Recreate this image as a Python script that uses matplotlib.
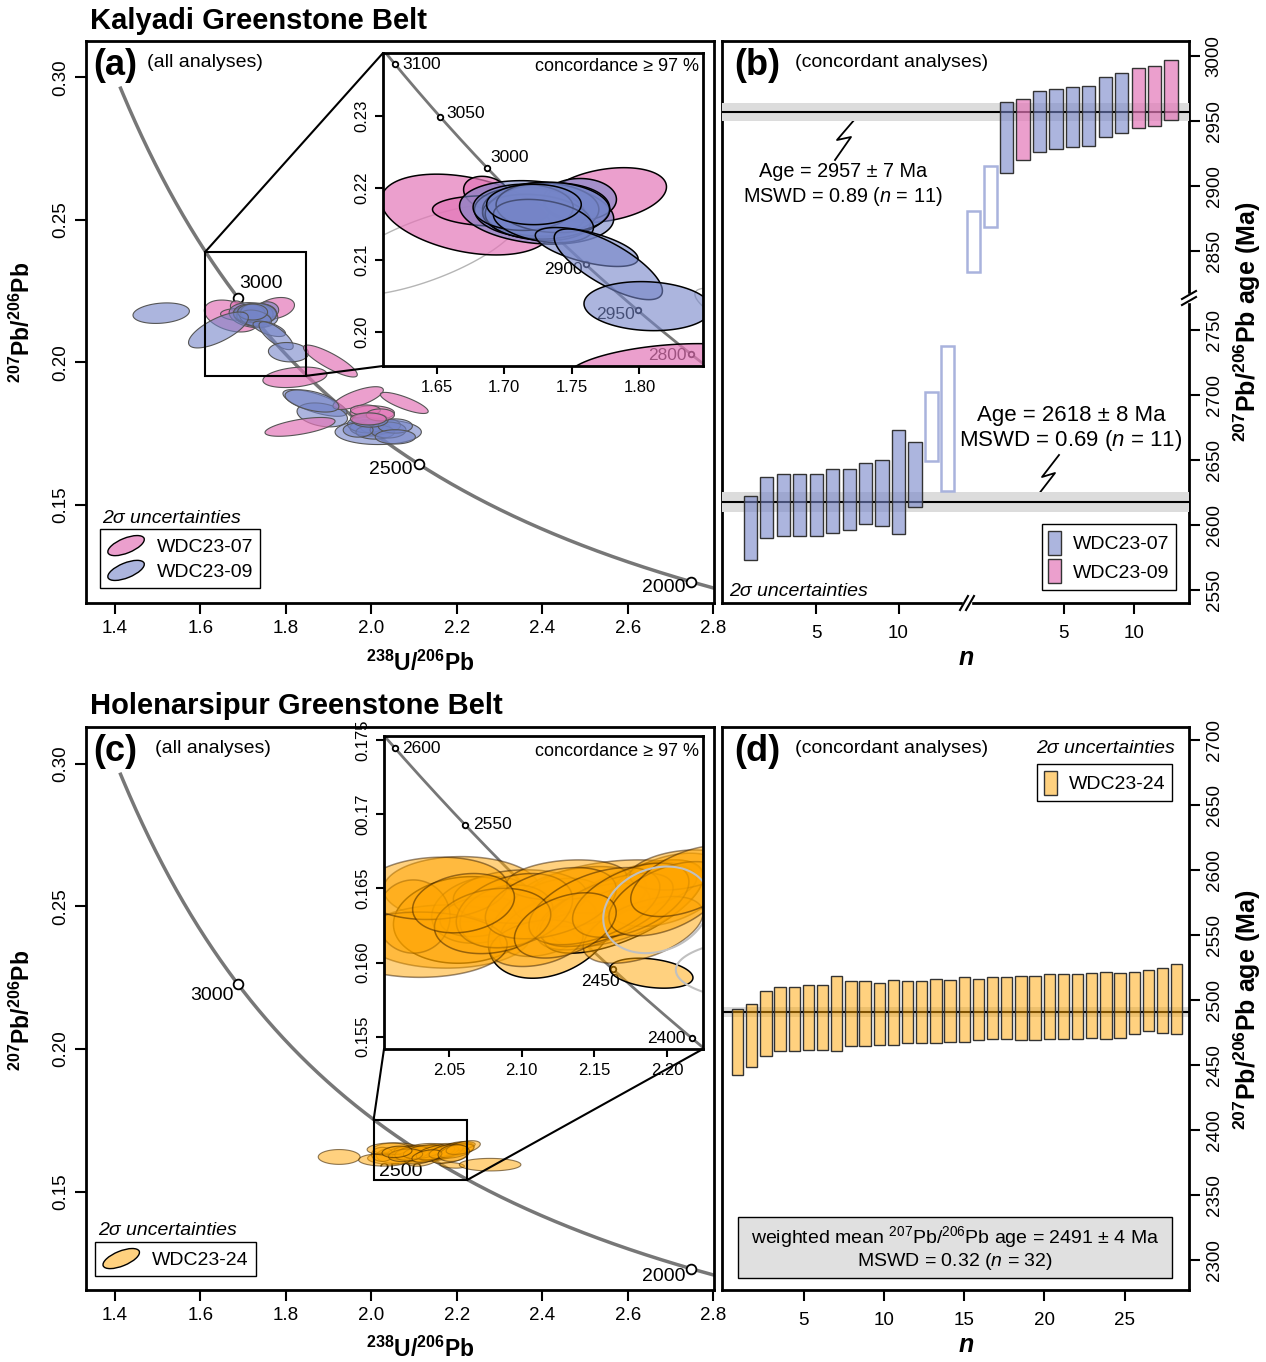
import numpy as np
import matplotlib
matplotlib.use("Agg")
import matplotlib.pyplot as plt
from matplotlib.patches import Polygon, Rectangle, Ellipse, Patch, ConnectionPatch
from matplotlib.legend_handler import HandlerPatch
from matplotlib.colors import to_rgba

plt.rcParams['font.family'] = ['Liberation Sans', 'DejaVu Sans']
plt.rcParams['mathtext.fontset'] = 'custom'
plt.rcParams['mathtext.rm'] = 'Liberation Sans'
plt.rcParams['mathtext.it'] = 'Liberation Sans:italic'
plt.rcParams['mathtext.bf'] = 'Liberation Sans:bold'
plt.rcParams['axes.linewidth'] = 2

# decay constants (1/Ma) for the Tera-Wasserburg concordia
LAM238 = 1.55125e-4
LAM235 = 9.8485e-4
U238_U235 = 137.818

# ---------------- (a) Kalyadi, all analyses: 238U/206Pb, 207Pb/206Pb (2s), rho
ka_x = [1.672, 1.687, 1.690, 1.775, 1.821, 1.724, 1.756, 1.719, 1.727, 1.724,
        1.732, 1.714, 1.736, 1.729, 1.722, 1.761, 1.777, 1.806, 1.642, 1.508,
        1.904, 1.868, 1.885, 1.969, 2.077, 1.833, 2.002, 1.986, 2.016, 1.861,
        1.997, 2.021, 1.986, 2.009, 2.039, 1.969, 2.056, 1.997, 2.056, 2.021, 1.993]
ka_sx = [0.063, 0.017, 0.043, 0.045, 0.075, 0.057, 0.027, 0.041, 0.043, 0.040,
         0.046, 0.037, 0.042, 0.037, 0.035, 0.038, 0.040, 0.047, 0.070, 0.066,
         0.063, 0.075, 0.059, 0.059, 0.056, 0.082, 0.052, 0.035, 0.101, 0.063,
         0.047, 0.047, 0.042, 0.045, 0.042, 0.035, 0.040, 0.042, 0.047, 0.033, 0.042]
ka_y = [0.2163, 0.2193, 0.2168, 0.2190, 0.1948, 0.2166, 0.2184, 0.2166, 0.2170, 0.2159,
        0.2168, 0.2173, 0.2173, 0.2154, 0.2177, 0.2118, 0.2094, 0.2036, 0.2114, 0.2173,
        0.2005, 0.1858, 0.1816, 0.1875, 0.1858, 0.1774, 0.1823, 0.1833, 0.1756, 0.1865,
        0.1770, 0.1777, 0.1781, 0.1756, 0.1763, 0.1763, 0.1777, 0.1798, 0.1739, 0.1816, 0.1802]
ka_sy = [0.0056, 0.0023, 0.0021, 0.0038, 0.0036, 0.0044, 0.0029, 0.0035, 0.0037, 0.0032,
         0.0039, 0.0032, 0.0035, 0.0030, 0.0028, 0.0027, 0.0049, 0.0034, 0.0063, 0.0036,
         0.0056, 0.0047, 0.0042, 0.0040, 0.0037, 0.0033, 0.0025, 0.0018, 0.0044, 0.0039,
         0.0028, 0.0028, 0.0028, 0.0025, 0.0028, 0.0025, 0.0025, 0.0025, 0.0025, 0.0021, 0.0021]
ka_rho = [-0.35, -0.2, -0.1, 0.3, 0.3, -0.2, 0.0, -0.1, 0.0, -0.2,
          0.1, 0.0, -0.1, -0.3, 0.0, -0.6, -0.75, -0.1, 0.7, 0.2,
          -0.85, -0.7, -0.3, 0.7, -0.8, 0.6, 0.0, 0.0, 0.0, -0.5,
          0.0, 0.1, -0.1, 0.0, 0.0, 0.0, 0.0, 0.0, 0.0, 0.0, 0.0]
ka_smp = ['07', '07', '07', '07', '07', '09', '09', '09', '09', '09',
          '09', '09', '09', '09', '09', '09', '09', '09', '09', '09',
          '07', '09', '09', '07', '07', '07', '07', '07', '09', '09',
          '09', '09', '09', '09', '09', '09', '09', '09', '09', '07', '07']
ka_conc = [True] * 18 + [False] * 8 + [True, True, False, False] + [True] * 11

# ---------------- (b) Kalyadi concordant 207Pb/206Pb ages (Ma, 2s)
kb_lo_age = [2598.0, 2613.8, 2615.9, 2615.9, 2615.9, 2618.7, 2619.6, 2624.3, 2625.1,
             2633.6, 2639.2, 2675.9, 2682.1]
kb_lo_err = [24.8, 23.7, 23.7, 23.7, 23.7, 24.4, 23.5, 23.5, 25.4, 40.1, 25.1, 26.4, 55.5]
kb_lo_used = [True] * 11 + [False] * 2
kb_lo_smp = ['07'] * 13
kb_hi_age = [2857.3, 2892.2, 2937.7, 2943.6, 2949.7, 2951.9, 2953.2, 2954.1, 2960.8,
             2963.8, 2967.6, 2969.1, 2973.6]
kb_hi_err = [23.3, 23.5, 27.3, 23.3, 23.2, 23.1, 23.3, 23.2, 23.2, 23.1, 23.0, 22.9, 23.0]
kb_hi_used = [False, False] + [True] * 11
kb_hi_smp = ['07', '07', '07', '09', '07', '07', '07', '07', '07', '07', '09', '09', '09']
kb_lo_mean, kb_lo_mean_err = 2618, 8
kb_hi_mean, kb_hi_mean_err = 2957, 7

# ---------------- (c) Holenarsipur, all analyses
hc_x = [2.0587, 2.0610, 2.0484, 2.0736, 2.0713, 2.1205, 2.1182, 2.1698, 2.1721, 2.1892,
        2.1630, 2.1400, 2.0988, 2.0896, 2.1492, 2.1995, 2.2087, 2.1309, 2.1102, 2.0255,
        2.1835, 2.1583, 2.0300, 2.0400, 2.0950, 2.1200, 2.1500, 2.1750, 2.2000, 2.0800,
        2.0600, 2.1300, 2.2150,
        2.1927, 2.2780, 1.9246]
hc_sx = [0.0538, 0.0492, 0.0573, 0.0355, 0.0275, 0.0435, 0.0332, 0.0550, 0.0527, 0.0286,
         0.0573, 0.0458, 0.0458, 0.0320, 0.0390, 0.0412, 0.0344, 0.0412, 0.0320, 0.0252,
         0.0412, 0.0458, 0.0600, 0.0500, 0.0400, 0.0450, 0.0450, 0.0400, 0.0400, 0.0400,
         0.0350, 0.0350, 0.0400,
         0.0366, 0.0720, 0.0490]
hc_y = [0.16494, 0.16287, 0.16175, 0.16355, 0.16310, 0.16231, 0.16243, 0.16377, 0.16400, 0.15928,
        0.16512, 0.16445, 0.16445, 0.16310, 0.16310, 0.16490, 0.16624, 0.16557, 0.16130, 0.16310,
        0.16220, 0.16355, 0.16120, 0.16500, 0.16350, 0.16400, 0.16380, 0.16420, 0.16430, 0.16280,
        0.16400, 0.16250, 0.16550,
        0.16355, 0.15950, 0.16220]
hc_sy = [0.00220, 0.00292, 0.00213, 0.00225, 0.00135, 0.00337, 0.00202, 0.00314, 0.00292, 0.00101,
         0.00180, 0.00202, 0.00180, 0.00213, 0.00225, 0.00247, 0.00135, 0.00135, 0.00157, 0.00247,
         0.00225, 0.00247, 0.00220, 0.00210, 0.00250, 0.00240, 0.00260, 0.00250, 0.00250, 0.00220,
         0.00200, 0.00220, 0.00240,
         0.00292, 0.00220, 0.00260]
hc_rho = [0.0, 0.1, 0.0, 0.2, 0.2, 0.3, 0.4, 0.65, 0.6, -0.3,
          0.3, 0.3, 0.1, 0.2, 0.5, 0.4, 0.3, 0.2, 0.3, 0.0,
          0.5, 0.6, 0.0, 0.1, 0.3, 0.4, 0.5, 0.5, 0.5, 0.2,
          0.2, 0.4, 0.5,
          0.2, 0.0, 0.0]
hc_conc = [True] * 33 + [False] * 3

# ---------------- (d) Holenarsipur concordant 207Pb/206Pb ages (Ma, 2s)
hd_age = [2467.7, 2473.1, 2482.4, 2485.6, 2485.6, 2486.7, 2486.7, 2489.8, 2489.8, 2489.8,
          2489.8, 2490.7, 2490.8, 2490.8, 2491.7, 2491.9, 2492.7, 2493.0, 2493.8, 2493.8,
          2494.1, 2494.1, 2495.1, 2495.1, 2495.1, 2496.0, 2496.0, 2496.0, 2498.0, 2500.0,
          2500.0, 2501.0]
hd_err = [25.3, 24.2, 25.0, 24.8, 24.8, 25.0, 25.0, 29.0, 25.0, 25.0,
          23.8, 24.7, 23.9, 23.9, 24.8, 23.8, 24.9, 23.6, 23.8, 23.8,
          24.7, 24.7, 24.8, 24.8, 24.8, 24.8, 25.7, 24.8, 23.7, 23.6,
          24.8, 26.6]
hd_mean, hd_mean_err = 2491, 4

a_inset_x, a_inset_y = (1.6104, 1.847), (0.1953, 0.2387)
c_inset_x, c_inset_y = (2.0053, 2.2247), (0.15417, 0.17527)

PINK = to_rgba('#E377B8', 0.7)
BLUE = to_rgba('#7585C8', 0.6)
ORANGE = to_rgba('#FFA500', 0.5)
BAND = '#DCDCDC'
TICK_FS = 13.5
IN_FS = 12

W, H = 1266, 1362
fig = plt.figure(figsize=(W / 100, H / 100), dpi=100)


def box(x0, y0, x1, y1):
    return [x0 / W, 1 - y1 / H, (x1 - x0) / W, (y1 - y0) / H]


def ell(x, sx, y, sy, rho, n=120):
    t = np.linspace(0, 2 * np.pi, n)
    return np.column_stack([x + sx * np.cos(t),
                            y + sy * (rho * np.cos(t) + np.sqrt(1 - rho ** 2) * np.sin(t))])


def tw(t):
    e8 = np.exp(LAM238 * t) - 1
    e5 = np.exp(LAM235 * t) - 1
    return 1 / e8, e5 / e8 / U238_U235


def concordia(ax, lw, ms, ages, labels, offs, fs):
    t = np.linspace(1500, 3450, 1000)
    cx, cy = tw(t)
    ax.plot(cx, cy, color='#777777', lw=lw, zorder=1)
    mx, my = tw(np.array(ages, float))
    ax.plot(mx, my, 'o', mfc='white', mec='black', ms=ms, mew=1.3, zorder=1.5)
    for x, y, lab, (dx, dy, ha, va) in zip(mx, my, labels, offs):
        ax.annotate(lab, (x, y), xytext=(dx, dy), textcoords='offset pixels',
                    ha=ha, va=va, fontsize=fs, zorder=1.5)


def style_ax(ax, size=TICK_FS, length=8):
    ax.tick_params(direction='out', length=length, width=1.5, labelsize=size, pad=4)
    for lab in ax.get_yticklabels():
        lab.set_rotation(90)
        lab.set_va('center')


class HandlerEllipse(HandlerPatch):
    def create_artists(self, legend, orig_handle, xdescent, ydescent,
                       width, height, fontsize, trans):
        c = (0.5 * width - xdescent, 0.5 * height - ydescent)
        p = Ellipse(c, width=width, height=height * 0.8, angle=22)
        self.update_prop(p, orig_handle, legend)
        p.set_transform(trans)
        return [p]


def uncert_legend(ax, handles, labels, anchor, loc, ellipse):
    hm = {Patch: HandlerEllipse()} if ellipse else None
    kw = dict(handlelength=2.0, handleheight=1.1) if ellipse else dict(handlelength=0.65, handleheight=1.5)
    leg = ax.legend(handles, labels, loc=loc, bbox_to_anchor=anchor, fontsize=14,
                    fancybox=False, edgecolor='black', framealpha=1, borderaxespad=0,
                    handler_map=hm, handletextpad=0.6, labelspacing=0.25, borderpad=0.35, **kw)
    leg.get_frame().set_linewidth(1.0)
    return leg


# ======================= (a) =======================
ax_a = fig.add_axes(box(86, 41, 714, 603))
ax_a.set_xlim(1.332, 2.802)
ax_a.set_ylim(0.1156, 0.3128)
concordia(ax_a, 2.5, 7, [3000, 2500, 2000], ['3000', '2500', '2000'],
          [(1, 6, 'left', 'bottom'), (-6, 3, 'right', 'top'), (-6, 3, 'right', 'top')], 14)
for i in range(len(ka_x)):
    fc = PINK if ka_smp[i] == '07' else BLUE
    ax_a.add_patch(Polygon(ell(ka_x[i], ka_sx[i], ka_y[i], ka_sy[i], ka_rho[i]), closed=True,
                           facecolor=fc, edgecolor='#555555', lw=0.8, zorder=2))
ax_a.add_patch(Rectangle((a_inset_x[0], a_inset_y[0]), a_inset_x[1] - a_inset_x[0],
                         a_inset_y[1] - a_inset_y[0], fill=False, lw=1.5, ec='black', zorder=3))
ax_a.set_xticks([1.4, 1.6, 1.8, 2.0, 2.2, 2.4, 2.6, 2.8])
ax_a.set_xticklabels(['%.1f' % v for v in ax_a.get_xticks()])
ax_a.set_yticks([0.15, 0.20, 0.25, 0.30])
ax_a.set_yticklabels(['%.2f' % v for v in ax_a.get_yticks()])
style_ax(ax_a)
ax_a.text(0.012, 0.957, '(a)', transform=ax_a.transAxes, fontsize=26, fontweight='bold', va='center')
ax_a.text(0.097, 0.961, '(all analyses)', transform=ax_a.transAxes, fontsize=14, va='center')
ax_a.text(0.0255, 0.151, '2σ uncertainties', transform=ax_a.transAxes, fontsize=14,
          fontstyle='italic', va='center')
uncert_legend(ax_a, [Patch(fc=PINK, ec='black'), Patch(fc=BLUE, ec='black')],
              ['WDC23-07', 'WDC23-09'], (0.022, 0.027), 'lower left', True)

ax_ai = fig.add_axes(box(383, 53, 703, 366), zorder=5)
ax_ai.set_facecolor('white')
ax_ai.set_xlim(*a_inset_x)
ax_ai.set_ylim(*a_inset_y)
concordia(ax_ai, 2, 4, [3100, 3050, 3000, 2900, 2850, 2800],
          ['3100', '3050', '3000', '2900', '2950', '2800'],
          [(7, 0, 'left', 'center'), (6, 4, 'left', 'center'), (3, 3, 'left', 'bottom'),
           (-3, -5, 'right', 'center'), (-3, -4, 'right', 'center'), (-5, -1, 'right', 'center')], 12.5)
for i in range(len(ka_x)):
    pts = ell(ka_x[i], ka_sx[i], ka_y[i], ka_sy[i], ka_rho[i])
    if ka_conc[i]:
        fc = PINK if ka_smp[i] == '07' else BLUE
        ax_ai.add_patch(Polygon(pts, closed=True, facecolor=fc, edgecolor='black', lw=1.1, zorder=2))
    else:
        ax_ai.add_patch(Polygon(pts, closed=True, facecolor='none', edgecolor='#b5b5b5', lw=1, zorder=1.8))
ax_ai.set_xticks([1.65, 1.70, 1.75, 1.80])
ax_ai.set_xticklabels(['%.2f' % v for v in ax_ai.get_xticks()])
ax_ai.set_yticks([0.20, 0.21, 0.22, 0.23])
ax_ai.set_yticklabels(['%.2f' % v for v in ax_ai.get_yticks()])
style_ax(ax_ai, IN_FS, 6)
ax_ai.text(0.9875, 0.958, 'concordance ≥ 97 %', transform=ax_ai.transAxes, fontsize=13,
           ha='right', va='center')
for xyA, xyB in [((a_inset_x[0], a_inset_y[1]), (0, 1)), ((a_inset_x[1], a_inset_y[0]), (0, 0))]:
    fig.add_artist(ConnectionPatch(xyA=xyA, coordsA=ax_a.transData, xyB=xyB,
                                   coordsB=ax_ai.transAxes, lw=1.5, color='black', zorder=6))

# ======================= (b) =======================
HI_OFFSET = 13.57
HI_TICK_OFF, HI_TICK_SCALE = 15.79, 0.85
ax_b = fig.add_axes(box(722, 41, 1189, 603))
ax_b.set_xlim(-0.73, 27.66)
ax_b.set_ylim(0, 1)
ax_b.set_yticks([])
ax_b.set_xticks([5, 10, HI_TICK_OFF + 5 * HI_TICK_SCALE, HI_TICK_OFF + 10 * HI_TICK_SCALE])
ax_b.set_xticklabels(['5', '10', '5', '10'])
style_ax(ax_b)
ax_b.tick_params(axis='x', pad=8)

ax_bt = fig.add_axes(box(722, 41, 1189, 298))
ax_bb = fig.add_axes(box(722, 298, 1189, 603))
ax_bt.set_ylim(2813.9, 3011.6)
ax_bb.set_ylim(2540.3, 2774.9)
col_b = {'07': BLUE, '09': PINK}
for ax, ages, errs, used, smp, u0, mean, merr, ticks in [
        (ax_bb, kb_lo_age, kb_lo_err, kb_lo_used, kb_lo_smp, 0, kb_lo_mean, kb_lo_mean_err,
         [2550, 2600, 2650, 2700, 2750]),
        (ax_bt, kb_hi_age, kb_hi_err, kb_hi_used, kb_hi_smp, HI_OFFSET, kb_hi_mean, kb_hi_mean_err,
         [2850, 2900, 2950, 3000])]:
    ax.set_xlim(-0.73, 27.66)
    ax.patch.set_alpha(0)
    for s in ax.spines.values():
        s.set_visible(False)
    ax.set_xticks([])
    ax.axhspan(mean - merr, mean + merr, color=BAND, lw=0, zorder=0)
    ax.axhline(mean, color='black', lw=1.5, zorder=1)
    ages = np.array(ages)
    errs = np.array(errs)
    u = u0 + np.arange(1, len(ages) + 1)
    for k in range(len(ages)):
        if used[k]:
            ax.bar(u[k], 2 * errs[k], bottom=ages[k] - errs[k], width=0.8, color=col_b[smp[k]],
                   edgecolor='#333333', lw=1, zorder=2)
        else:
            ax.bar(u[k], 2 * errs[k], bottom=ages[k] - errs[k], width=0.8, color='none',
                   edgecolor='#A9B3DD', lw=1.8, zorder=2)
    ax.yaxis.tick_right()
    ax.set_yticks(ticks)
    ax.tick_params(axis='y', direction='out', length=8, width=1.5, labelsize=TICK_FS, pad=4)
    for lab in ax.get_yticklabels():
        lab.set_rotation(90)
        lab.set_va('center')


def px_to_b(xp, yp):
    return (xp - 722) / 467, (603 - yp) / 562


def zig(ax, pts, conv):
    xy = np.array([conv(*p) for p in pts])
    ax.plot(xy[:, 0], xy[:, 1], color='black', lw=1.3, transform=ax.transAxes, zorder=4)


zig(ax_b, [(855, 119), (837, 140), (851, 137), (835, 160)], px_to_b)
zig(ax_b, [(1059, 455), (1042, 477), (1055, 473), (1038, 495)], px_to_b)
ax_b.text(*px_to_b(843, 185), 'Age = %d ± %d Ma\nMSWD = 0.89 ($n$ = 11)' % (kb_hi_mean, kb_hi_mean_err),
          transform=ax_b.transAxes, ha='center', va='center', fontsize=14.3, linespacing=1.2, zorder=5)
ax_b.text(*px_to_b(1071, 429), 'Age = %d ± %d Ma\nMSWD = 0.69 ($n$ = 11)' % (kb_lo_mean, kb_lo_mean_err),
          transform=ax_b.transAxes, ha='center', va='center', fontsize=16, linespacing=1.15, zorder=5)
ax_b.text(0.026, 0.957, '(b)', transform=ax_b.transAxes, fontsize=26, fontweight='bold', va='center')
ax_b.text(0.156, 0.961, '(concordant analyses)', transform=ax_b.transAxes, fontsize=14, va='center')
ax_b.text(0.015, 0.021, '2σ uncertainties', transform=ax_b.transAxes, fontsize=14,
          fontstyle='italic', va='center')
uncert_legend(ax_b, [Patch(fc=BLUE, ec='#333333'), Patch(fc=PINK, ec='#333333')],
              ['WDC23-07', 'WDC23-09'], (0.972, 0.0231), 'lower right', False)

# axis breaks
bx, _ = px_to_b(967, 603)
_, by = px_to_b(1189, 298)
ax_b.add_patch(Rectangle((bx - 4 / 467, -3 / 562), 8 / 467, 6 / 562, transform=ax_b.transAxes,
                         color='white', clip_on=False, zorder=10))
ax_b.add_patch(Rectangle((1 - 3 / 467, by - 4 / 562), 6 / 467, 8 / 562, transform=ax_b.transAxes,
                         color='white', clip_on=False, zorder=10))
for d in (-3, 3):
    ax_b.plot([bx + (d - 4) / 467, bx + (d + 4) / 467], [-7 / 562, 7 / 562], color='black', lw=1.5,
              transform=ax_b.transAxes, clip_on=False, zorder=11)
    ax_b.plot([1 - 7 / 467, 1 + 7 / 467], [by + (d - 4) / 562, by + (d + 4) / 562], color='black',
              lw=1.5, transform=ax_b.transAxes, clip_on=False, zorder=11)

# ======================= (c) =======================
ax_c = fig.add_axes(box(86, 727, 714, 1290))
ax_c.set_xlim(1.332, 2.802)
ax_c.set_ylim(0.1156, 0.3128)
concordia(ax_c, 2.5, 7, [3000, 2500, 2000], ['3000', '2500', '2000'],
          [(-4, -3, 'right', 'top'), (4, -12, 'right', 'top'), (-6, 1, 'right', 'top')], 14)
for i in range(len(hc_x)):
    ax_c.add_patch(Polygon(ell(hc_x[i], hc_sx[i], hc_y[i], hc_sy[i], hc_rho[i]), closed=True,
                           facecolor=ORANGE, edgecolor=(0.25, 0.15, 0, 0.6), lw=0.8, zorder=2))
ax_c.add_patch(Rectangle((c_inset_x[0], c_inset_y[0]), c_inset_x[1] - c_inset_x[0],
                         c_inset_y[1] - c_inset_y[0], fill=False, lw=1.5, ec='black', zorder=3))
ax_c.set_xticks([1.4, 1.6, 1.8, 2.0, 2.2, 2.4, 2.6, 2.8])
ax_c.set_xticklabels(['%.1f' % v for v in ax_c.get_xticks()])
ax_c.set_yticks([0.15, 0.20, 0.25, 0.30])
ax_c.set_yticklabels(['%.2f' % v for v in ax_c.get_yticks()])
style_ax(ax_c)
ax_c.text(0.012, 0.957, '(c)', transform=ax_c.transAxes, fontsize=26, fontweight='bold', va='center')
ax_c.text(0.110, 0.961, '(all analyses)', transform=ax_c.transAxes, fontsize=14, va='center')
ax_c.text(0.019, 0.105, '2σ uncertainties', transform=ax_c.transAxes, fontsize=14,
          fontstyle='italic', va='center')
uncert_legend(ax_c, [Patch(fc=ORANGE, ec='black')], ['WDC23-24'], (0.0143, 0.0249), 'lower left', True)

ax_ci = fig.add_axes(box(384, 736, 703, 1049), zorder=5)
ax_ci.set_facecolor('white')
ax_ci.set_xlim(*c_inset_x)
ax_ci.set_ylim(*c_inset_y)
concordia(ax_ci, 2, 4, [2600, 2550, 2450, 2400], ['2600', '2550', '2450', '2400'],
          [(7, 0, 'left', 'center'), (8, 0, 'left', 'center'), (7, -5, 'right', 'top'),
           (-6, 0, 'right', 'center')], 12.5)
for i in range(len(hc_x)):
    pts = ell(hc_x[i], hc_sx[i], hc_y[i], hc_sy[i], hc_rho[i])
    if hc_conc[i]:
        ec = 'black' if i in (1, 5, 7, 9) else (0.2, 0.1, 0, 0.5)
        ax_ci.add_patch(Polygon(pts, closed=True, facecolor=ORANGE, edgecolor=ec, lw=1.1, zorder=2))
    else:
        ax_ci.add_patch(Polygon(pts, closed=True, facecolor='none', edgecolor='#c0c0c0', lw=1.5, zorder=2.5))
ax_ci.set_xticks([2.05, 2.10, 2.15, 2.20])
ax_ci.set_xticklabels(['%.2f' % v for v in ax_ci.get_xticks()])
ax_ci.set_yticks([0.155, 0.160, 0.165, 0.170, 0.175])
ax_ci.set_yticklabels(['0.155', '0.160', '0.165', '00.17', '0.175'])
style_ax(ax_ci, IN_FS, 6)
ax_ci.text(0.987, 0.949, 'concordance ≥ 97 %', transform=ax_ci.transAxes, fontsize=13,
           ha='right', va='center')
for xyA, xyB in [((c_inset_x[0], c_inset_y[1]), (0, 0)), ((c_inset_x[1], c_inset_y[0]), (1, 0))]:
    fig.add_artist(ConnectionPatch(xyA=xyA, coordsA=ax_c.transData, xyB=xyB,
                                   coordsB=ax_ci.transAxes, lw=1.5, color='black', zorder=6))

# ======================= (d) =======================
D_TICK_SCALE = 1.133
ax_d = fig.add_axes(box(722, 727, 1189, 1290))
ax_d.set_xlim(-0.094, 32.86)
ax_d.set_ylim(2277.2, 2710.2)
ax_d.axhspan(hd_mean - hd_mean_err, hd_mean + hd_mean_err, color=BAND, lw=0, zorder=0)
ax_d.axhline(hd_mean, color='black', lw=1.5, zorder=1)
hd_age = np.array(hd_age)
hd_err = np.array(hd_err)
ax_d.bar(np.arange(1, len(hd_age) + 1), 2 * hd_err, bottom=hd_age - hd_err, width=0.8,
         color=ORANGE, edgecolor='#333333', lw=1, zorder=2)
ax_d.yaxis.tick_right()
ax_d.set_yticks(np.arange(2300, 2701, 50))
ax_d.set_xticks([t * D_TICK_SCALE for t in (5, 10, 15, 20, 25)])
ax_d.set_xticklabels(['5', '10', '15', '20', '25'])
style_ax(ax_d)
ax_d.tick_params(axis='x', pad=8)
ax_d.text(0.026, 0.957, '(d)', transform=ax_d.transAxes, fontsize=26, fontweight='bold', va='center')
ax_d.text(0.156, 0.961, '(concordant analyses)', transform=ax_d.transAxes, fontsize=14, va='center')
ax_d.text(0.970, 0.961, '2σ uncertainties', transform=ax_d.transAxes, fontsize=14,
          fontstyle='italic', ha='right', va='center')
uncert_legend(ax_d, [Patch(fc=ORANGE, ec='#333333')], ['WDC23-24'], (0.9636, 0.934), 'upper right', False)
ax_d.add_patch(Rectangle((0.034, 0.0213), 0.9296, 0.1084, transform=ax_d.transAxes,
                         facecolor='#E0E0E0', edgecolor='black', lw=1, zorder=3))
ax_d.text(0.499, 0.0941, 'weighted mean $^{207}$Pb/$^{206}$Pb age = %d ± %d Ma' % (hd_mean, hd_mean_err),
          transform=ax_d.transAxes, ha='center', va='center', fontsize=14, zorder=4)
ax_d.text(0.499, 0.0515, 'MSWD = 0.32 ($n$ = 32)', transform=ax_d.transAxes, ha='center',
          va='center', fontsize=14, zorder=4)

# ======================= labels =======================
fig.text(90 / W, 1 - 21 / H, 'Kalyadi Greenstone Belt', fontsize=21, fontweight='bold', va='center')
fig.text(90 / W, 1 - 706 / H, 'Holenarsipur Greenstone Belt', fontsize=21, fontweight='bold', va='center')
for yc in (663, 1349):
    fig.text(420 / W, 1 - yc / H, r'$\mathbf{^{238}U/^{206}Pb}$', fontsize=16.5, ha='center', va='center')
for yc in (322, 1010):
    fig.text(22 / W, 1 - yc / H, r'$\mathbf{^{207}Pb/^{206}Pb}$', fontsize=16.5, ha='center',
             va='center', rotation=90)
    fig.text(1247 / W, 1 - yc / H, r'$\mathbf{^{207}Pb/^{206}Pb\ age\ (Ma)}$', fontsize=18,
             ha='center', va='center', rotation=90)
for yc in (658, 1345):
    fig.text(966 / W, 1 - yc / H, 'n', fontsize=18, fontweight='bold', fontstyle='italic',
             ha='center', va='center')

fig.savefig('out.png', dpi=100)
